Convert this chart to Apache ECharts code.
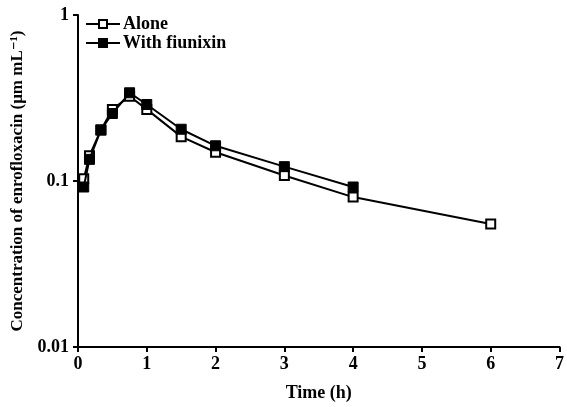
<!DOCTYPE html>
<html>
<head>
<meta charset="utf-8">
<script src="https://cdn.jsdelivr.net/npm/echarts@6/dist/echarts.min.js"></script>
<style>
  html, body { margin: 0; padding: 0; background: #fff; }
  #chart { width: 567px; height: 407px; }
</style>
</head>
<body>
<div id="chart"></div>
<script>
const times = [0.083, 0.167, 0.333, 0.5, 0.75, 1, 1.5, 2, 3, 4, 6]
const alone = [0.103, 0.142, 0.203, 0.27, 0.324, 0.27, 0.185, 0.149, 0.108, 0.080, 0.055]
const timesFlunixin = [0.083, 0.167, 0.333, 0.5, 0.75, 1, 1.5, 2, 3, 4]
const withFlunixin = [0.092, 0.135, 0.203, 0.255, 0.34, 0.289, 0.205, 0.163, 0.122, 0.092]
const xTicks = [0, 1, 2, 3, 4, 5, 6, 7]

const FONT = '"Liberation Serif", "DejaVu Serif", serif'

const chart = echarts.init(document.getElementById('chart'))

chart.setOption({
  animation: false,
  backgroundColor: '#fff',
  grid: { left: 78, right: 5, top: 15, bottom: 56, containLabel: false },
  legend: {
    orient: 'vertical',
    left: 80, top: 10,
    itemWidth: 34, itemHeight: 10, itemGap: 1,
    textStyle: { fontFamily: FONT, fontWeight: 'bold', fontSize: 18, color: '#000', padding: [0, 0, 0, -2] },
    data: ['Alone', 'With fiunixin']
  },
  xAxis: {
    type: 'value', min: 0, max: 7, interval: 1,
    name: 'Time (h)', nameLocation: 'middle', nameGap: 37,
    nameTextStyle: { fontFamily: FONT, fontWeight: 'bold', fontSize: 18, color: '#000' },
    axisLine: { lineStyle: { color: '#000', width: 2 } },
    axisTick: { length: 5, lineStyle: { color: '#000', width: 2 } },
    axisLabel: {
      fontFamily: FONT, fontWeight: 'bold', fontSize: 18, color: '#000', margin: 8,
      formatter: v => xTicks.includes(v) ? String(v) : ''
    },
    splitLine: { show: false }
  },
  yAxis: {
    type: 'log', min: 0.01, max: 1, logBase: 10,
    name: 'Concentration of enrofloxacin (μm mL⁻¹)', nameLocation: 'middle', nameGap: 50,
    nameTextStyle: { fontFamily: FONT, fontWeight: 'bold', fontSize: 17, color: '#000' },
    axisLine: { show: true, lineStyle: { color: '#000', width: 2 } },
    axisTick: { show: true, length: 5, lineStyle: { color: '#000', width: 2 } },
    minorTick: { show: false },
    axisLabel: {
      fontFamily: FONT, fontWeight: 'bold', fontSize: 18, color: '#000', margin: 9,
      formatter: v => String(+v.toPrecision(2))
    },
    splitLine: { show: false }
  },
  series: [
    {
      name: 'Alone', type: 'line',
      data: times.map((t, i) => [t, alone[i]]),
      symbol: 'rect', symbolSize: 9,
      itemStyle: { color: '#fff', borderColor: '#000', borderWidth: 2 },
      lineStyle: { color: '#000', width: 2 },
      z: 2
    },
    {
      name: 'With fiunixin', type: 'line',
      data: timesFlunixin.map((t, i) => [t, withFlunixin[i]]),
      symbol: 'rect', symbolSize: 10,
      itemStyle: { color: '#000', borderColor: '#000', borderWidth: 1 },
      lineStyle: { color: '#000', width: 2 },
      z: 3
    }
  ]
})
</script>
</body>
</html>
